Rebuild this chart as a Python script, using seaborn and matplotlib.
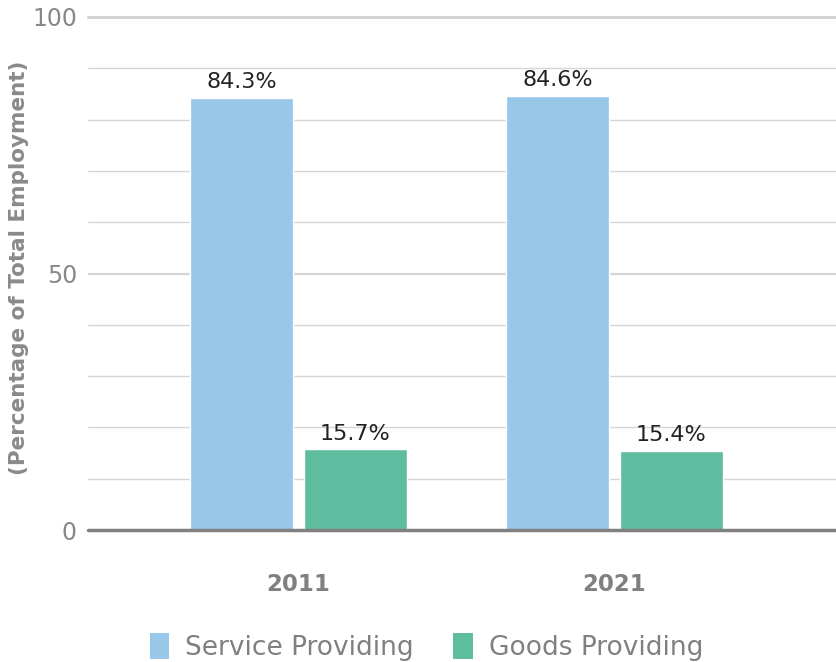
import matplotlib
matplotlib.use("Agg")
import matplotlib.pyplot as plt
import seaborn as sns
import pandas as pd
from matplotlib.patches import Patch

years = ["2011", "2021"]
series = ["Service Providing", "Goods Providing"]
service_vals = [84.3, 84.6]
goods_vals = [15.7, 15.4]
colors = ["#99C7EA", "#5EBD9E"]

df = pd.DataFrame({
    "year": years * 2,
    "sector": [series[0]] * 2 + [series[1]] * 2,
    "value": service_vals + goods_vals,
})

sns.set_theme(style="white")
plt.rcParams["font.family"] = ["DejaVu Sans"]

fig = plt.figure(figsize=(8.37, 6.62), dpi=100)
ax = fig.add_axes([88 / 837, 1 - 530 / 662, 1 - 88 / 837, (530 - 17) / 662])

sns.barplot(data=df, x="year", y="value", hue="sector", palette=colors,
            width=0.72, gap=0.1, ax=ax, legend=False, saturation=1)

ax.set_ylim(0, 100)
ax.set_xlim(-0.666, 1.704)
for v in range(10, 100, 10):
    lw = 1.6 if v == 50 else 1.0
    ax.axhline(v, color="#d6d6d6", lw=lw, zorder=0)
ax.axhline(100, color="#d3d3d3", lw=2.2, zorder=0, clip_on=False)
ax.axhline(0, color="#808080", lw=2.5, zorder=3, clip_on=False)

for s in ax.spines.values():
    s.set_visible(False)

ax.set_yticks([0, 50, 100])
ax.set_yticklabels(["0", "50", "100"], fontsize=17, color="#888888")
ax.tick_params(axis="y", length=0, pad=8)
ax.tick_params(axis="x", length=0, pad=31)
for t in ax.get_xticklabels():
    t.set_fontsize(16.5)
    t.set_fontweight("bold")
    t.set_color("#808080")
ax.set_xlabel("")
ax.set_ylabel("")
fig.text(19 / 837, 1 - 268 / 662, "(Percentage of Total Employment)", rotation=90,
         ha="center", va="center", fontsize=15.5, fontweight="bold", color="#8a8a8a")

for cont in ax.containers:
    ax.bar_label(cont, labels=[f"{v:.1f}%" for v in cont.datavalues],
                 fontsize=16, color="#222222", padding=4)

handles = [Patch(facecolor=c, edgecolor="none") for c in colors]
fig.legend(handles, series, loc="center", bbox_to_anchor=(426.5 / 837, 1 - 647 / 662),
           ncol=2, frameon=False, fontsize=19, labelcolor="#808080",
           handlelength=0.75, handleheight=1.1, handletextpad=0.6, columnspacing=1.5)

fig.savefig("out.png", dpi=100)
